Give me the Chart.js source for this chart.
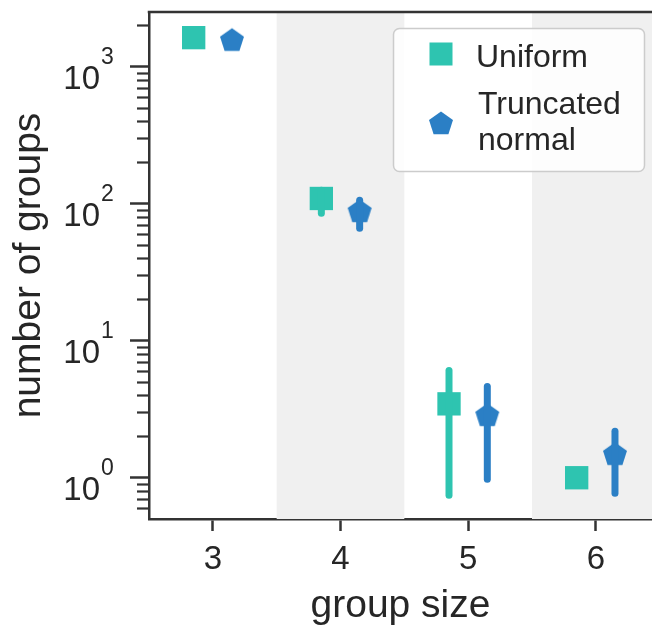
<!DOCTYPE html>
<html>
<head>
<meta charset="utf-8">
<script src="https://cdn.jsdelivr.net/npm/chart.js@4.4.1/dist/chart.umd.min.js"></script>
<style>
  html, body { margin: 0; padding: 0; background: #fff; overflow: hidden; }
</style>
</head>
<body>
<canvas id="myChart" width="652" height="627"></canvas>
<script>
// datos
const categorias = [3, 4, 5, 6];
const uniforme = [1625, 109, 3.46, 1.0];
const uniformeBajo = [null, 85, 0.745, null];
const uniformeAlto = [null, 125, 6.07, null];
const normalTrunc = [1545, 87, 2.83, 1.47];
const normalBajo = [null, 66, 0.975, 0.77];
const normalAlto = [null, 106, 4.64, 2.18];
const decadas = [0, 1, 2, 3];

const colorUni = '#2ec4b0';
const colorNorm = '#2b7fc5';
const fuente = '"Liberation Sans", Arial, sans-serif';
const colorTexto = '#262626';
const desplaza = 0.15;

// marcas menores del eje y (2..9 por decada)
const marcasY = [];
for (let d = -1; d <= 3; d++) {
  for (let m = 1; m <= 9; m++) {
    const v = m * Math.pow(10, d);
    if (v >= 0.55 && v <= 2500) marcasY.push(+v.toPrecision(3));
  }
}
const esMayor = v => Math.abs(Math.log10(v) - Math.round(Math.log10(v))) < 1e-6;

// pentagono como imagen para el pointStyle
function dibujaPentagono(c, cx, cy, R) {
  c.beginPath();
  for (let i = 0; i < 5; i++) {
    const a = -Math.PI / 2 + i * 2 * Math.PI / 5;
    const px = cx + R * Math.cos(a), py = cy + R * Math.sin(a);
    if (i === 0) c.moveTo(px, py); else c.lineTo(px, py);
  }
  c.closePath();
  c.fill();
}
const pentagono = document.createElement('canvas');
pentagono.width = 28; pentagono.height = 28;
const pc = pentagono.getContext('2d');
pc.fillStyle = colorNorm;
dibujaPentagono(pc, 14, 14, 12.6);

const datasets = [];
// barras de error
for (let i = 0; i < categorias.length; i++) {
  if (uniformeBajo[i] !== null) {
    datasets.push({
      type: 'line',
      data: [{x: categorias[i] - desplaza, y: uniformeBajo[i]}, {x: categorias[i] - desplaza, y: uniformeAlto[i]}],
      borderColor: colorUni, borderWidth: 7, borderCapStyle: 'round', pointRadius: 0, showLine: true
    });
  }
  if (normalBajo[i] !== null) {
    datasets.push({
      type: 'line',
      data: [{x: categorias[i] + desplaza, y: normalBajo[i]}, {x: categorias[i] + desplaza, y: normalAlto[i]}],
      borderColor: colorNorm, borderWidth: 7, borderCapStyle: 'round', pointRadius: 0, showLine: true
    });
  }
}
datasets.push({
  label: 'Uniform',
  data: categorias.map((c, i) => ({x: c - desplaza, y: uniforme[i]})),
  pointStyle: 'rect', pointRadius: 16.5, pointBorderWidth: 0,
  backgroundColor: colorUni, borderColor: colorUni
});
datasets.push({
  label: 'Truncated normal',
  data: categorias.map((c, i) => ({x: c + desplaza, y: normalTrunc[i]})),
  pointStyle: pentagono, pointRadius: 14,
  backgroundColor: colorNorm, borderColor: colorNorm
});

const adornos = {
  id: 'adornos',
  beforeDatasetsDraw(chart) {
    const {ctx, chartArea: a, scales: {x}} = chart;
    ctx.save();
    ctx.fillStyle = '#f0f0f0';
    [[3.5, 4.5], [5.5, 6.5]].forEach(([i, f]) => {
      const x0 = Math.max(x.getPixelForValue(i), a.left);
      const x1 = Math.min(x.getPixelForValue(f), a.right);
      ctx.fillRect(x0, a.top, x1 - x0, a.bottom - a.top);
    });
    ctx.restore();
  },
  afterDraw(chart) {
    const {ctx, chartArea: a, scales: {y}} = chart;
    ctx.save();
    // borde superior
    ctx.strokeStyle = '#333';
    ctx.lineWidth = 2.5;
    ctx.beginPath();
    ctx.moveTo(a.left - 1.25, a.top);
    ctx.lineTo(a.right, a.top);
    ctx.stroke();
    // marcas menores
    ctx.lineWidth = 2.2;
    marcasY.filter(v => !esMayor(v)).forEach(v => {
      const py = Math.round(y.getPixelForValue(v)) + 0.5;
      ctx.beginPath();
      ctx.moveTo(a.left - 12, py);
      ctx.lineTo(a.left, py);
      ctx.stroke();
    });
    // etiquetas 10^n
    ctx.fillStyle = colorTexto;
    ctx.textBaseline = 'alphabetic';
    decadas.forEach(n => {
      const py = y.getPixelForValue(Math.pow(10, n));
      ctx.font = '33px ' + fuente;
      ctx.textAlign = 'right';
      ctx.fillText('10', 100, py + 22);
      ctx.font = '23px ' + fuente;
      ctx.textAlign = 'left';
      ctx.fillText(String(n), 101, py - 3);
    });
    // leyenda
    ctx.fillStyle = 'rgba(255,255,255,0.85)';
    ctx.strokeStyle = '#cccccc';
    ctx.lineWidth = 1.5;
    ctx.beginPath();
    ctx.roundRect(393.5, 28.5, 251, 143, 6);
    ctx.fill();
    ctx.stroke();
    ctx.fillStyle = colorUni;
    ctx.fillRect(429.5, 42.5, 23, 23);
    ctx.drawImage(pentagono, 441 - 14, 124 - 14);
    ctx.fillStyle = colorTexto;
    ctx.font = '32px ' + fuente;
    ctx.textAlign = 'left';
    ctx.fillText('Uniform', 476, 67);
    ctx.fillText('Truncated', 478, 114);
    ctx.fillText('normal', 478, 150);
    ctx.restore();
  }
};

const myChart = new Chart(document.getElementById('myChart').getContext('2d'), {
  type: 'scatter',
  data: { datasets: datasets },
  options: {
    animation: false,
    responsive: false,
    devicePixelRatio: 1,
    layout: { autoPadding: false, padding: { top: 12, left: 0, right: 0, bottom: 0 } },
    plugins: { legend: { display: false }, tooltip: { enabled: false } },
    scales: {
      x: {
        type: 'linear', min: 2.5, max: 6.44,
        afterBuildTicks: s => { s.ticks = categorias.map(v => ({value: v})); },
        afterFit: s => { s.height = 108; s.paddingLeft = 0; s.paddingRight = 0; },
        border: { color: '#333', width: 2.5 },
        grid: { drawOnChartArea: false, tickLength: 12, tickWidth: 2.5, tickColor: '#333' },
        ticks: { autoSkip: false, maxRotation: 0, padding: 9, color: colorTexto, font: { size: 33, family: fuente } },
        title: { display: true, text: 'group size', color: colorTexto, font: { size: 39, family: fuente }, padding: { top: 0, bottom: -3 } }
      },
      y: {
        type: 'logarithmic', min: 0.5, max: 2500,
        afterBuildTicks: s => { s.ticks = marcasY.map(v => ({value: v})); },
        afterFit: s => { s.width = 149; s.paddingTop = 0; s.paddingBottom = 0; },
        border: { color: '#333', width: 2.5 },
        grid: {
          drawOnChartArea: false, tickLength: 19, tickWidth: 2.5,
          tickColor: c => (c.tick && esMayor(c.tick.value)) ? '#333' : 'rgba(0,0,0,0)'
        },
        ticks: { display: false, autoSkip: false },
        title: { display: true, text: 'number of groups', color: colorTexto, font: { size: 39, family: fuente }, padding: { top: 6, bottom: 0 } }
      }
    }
  },
  plugins: [adornos]
});
</script>
</body>
</html>
